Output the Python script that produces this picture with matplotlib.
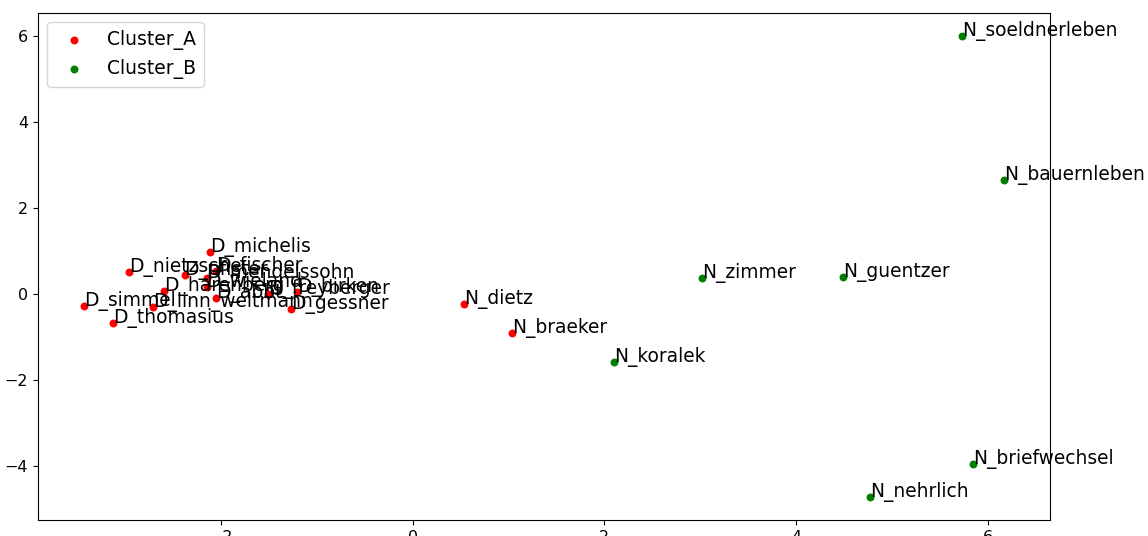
import matplotlib.pyplot as plt

# cluster A (red)
names_a = ['D_michelis', 'D_nietzsche', 'D_pfister', 'D_fischer', 'D_mendelssohn',
           'D_harenberg', 'D_wieland', 'D_abbt', 'D_linn_weltmann', 'D_simmel',
           'D_thomasius', 'D_freyberger', 'D_birken', 'D_gessner', 'N_dietz', 'N_braeker']
x_a = [-2.11, -2.96, -2.38, -2.05, -2.15, -2.59, -2.15, -2.05, -2.71, -3.43,
       -3.13, -1.51, -1.21, -1.27, 0.54, 1.04]
y_a = [0.98, 0.51, 0.44, 0.53, 0.37, 0.07, 0.16, -0.09, -0.30, -0.28,
       -0.67, 0.00, 0.05, -0.35, -0.23, -0.91]

# cluster B (green)
names_b = ['N_soeldnerleben', 'N_bauernleben', 'N_zimmer', 'N_guentzer',
           'N_koralek', 'N_briefwechsel', 'N_nehrlich']
x_b = [5.73, 6.17, 3.02, 4.49, 2.10, 5.85, 4.77]
y_b = [6.00, 2.65, 0.37, 0.40, -1.58, -3.95, -4.72]

fig = plt.figure(figsize=(11.48, 5.36), dpi=100)
ax = fig.add_axes([0.033, 0.03, 0.8816, 0.9458])

ax.scatter(x_a, y_a, c='red', s=22, label='Cluster_A')
ax.scatter(x_b, y_b, c='green', s=22, label='Cluster_B')

for n, x, y in zip(names_a, x_a, y_a):
    ax.annotate(n, (x, y), fontsize=13.4)
for n, x, y in zip(names_b, x_b, y_b):
    ax.annotate(n, (x, y), fontsize=13.4)

ax.tick_params(labelsize=11.5)
ax.legend(loc='upper left', fontsize=13.5)

plt.savefig('out.png')
